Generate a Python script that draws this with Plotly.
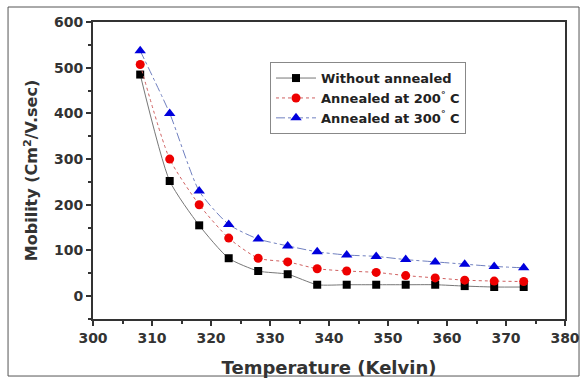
import plotly.graph_objects as go

temperature = [308, 313, 318, 323, 328, 333, 338, 343, 348, 353, 358, 363, 368, 373]
without_annealed = [485, 252, 155, 83, 55, 48, 25, 25, 25, 25, 25, 22, 20, 20]
annealed_200 = [507, 300, 200, 127, 83, 75, 60, 55, 52, 45, 40, 35, 33, 32]
annealed_300 = [537, 400, 230, 157, 125, 110, 97, 90, 87, 80, 75, 70, 65, 62]

names = ["Without annealed", "Annealed at 200<sup>°</sup> C", "Annealed at 300<sup>°</sup> C"]

fig = go.Figure()
fig.add_trace(go.Scatter(x=temperature, y=without_annealed, name=names[0],
    mode="lines+markers", line=dict(color="#777777", width=1, shape="spline", smoothing=0.6),
    marker=dict(symbol="square", color="black", size=8)))
fig.add_trace(go.Scatter(x=temperature, y=annealed_200, name=names[1],
    mode="lines+markers", line=dict(color="#d06060", width=1, dash="dot", shape="spline", smoothing=0.6),
    marker=dict(symbol="circle", color="#ee0000", size=9)))
fig.add_trace(go.Scatter(x=temperature, y=annealed_300, name=names[2],
    mode="lines+markers", line=dict(color="#7080c0", width=1, dash="dashdot", shape="spline", smoothing=0.6),
    marker=dict(symbol="triangle-up", color="#0000dd", size=10)))

font_b = "DejaVu Sans, Arial, sans-serif"
fig.update_layout(
    width=583, height=379,
    margin=dict(l=93, r=18, t=22, b=60, autoexpand=False),
    paper_bgcolor="white", plot_bgcolor="white",
    font=dict(family=font_b, color="#222222"),
    showlegend=True,
    legend=dict(x=0.375, y=0.865, xanchor="left", yanchor="top",
                bgcolor="white", bordercolor="#888888", borderwidth=1,
                font=dict(size=13, family=font_b, color="#222222", weight="bold"),
                tracegroupgap=0, itemwidth=40),
)
fig.update_xaxes(range=[300, 380], tickvals=list(range(300, 381, 10)), automargin=False,
    showline=True, linecolor="#333333", linewidth=2, mirror=True,
    ticks="outside", ticklen=5, tickwidth=1.5, tickcolor="#333333",
    minor=dict(ticks="outside", ticklen=3, tickwidth=1.5, tickcolor="#333333", dtick=5),
    showgrid=False, zeroline=False,
    tickfont=dict(size=14, family=font_b, color="#333333", weight="bold"),
    title=dict(text="Temperature (Kelvin)", standoff=17,
               font=dict(size=18, family=font_b, color="#333333", weight="bold")))
fig.update_yaxes(range=[-50, 600], tickvals=list(range(0, 601, 100)), automargin=False,
    showline=True, linecolor="#333333", linewidth=2, mirror=True,
    ticks="outside", ticklen=5, tickwidth=1.5, tickcolor="#333333",
    minor=dict(ticks="outside", ticklen=3, tickwidth=1.5, tickcolor="#333333", tick0=50, dtick=100),
    showgrid=False, zeroline=False,
    tickfont=dict(size=14, family=font_b, color="#333333", weight="bold"),
    title=dict(text="Mobility (Cm<sup>2</sup>/V.sec)", standoff=12,
               font=dict(size=16, family=font_b, color="#333333", weight="bold")))

fig.add_shape(type="rect", xref="paper", yref="paper",
    x0=-0.180, x1=1.0297, y0=-0.192, y1=1.0505,
    line=dict(color="#555555", width=1), layer="below")

fig.write_html("out.html")
